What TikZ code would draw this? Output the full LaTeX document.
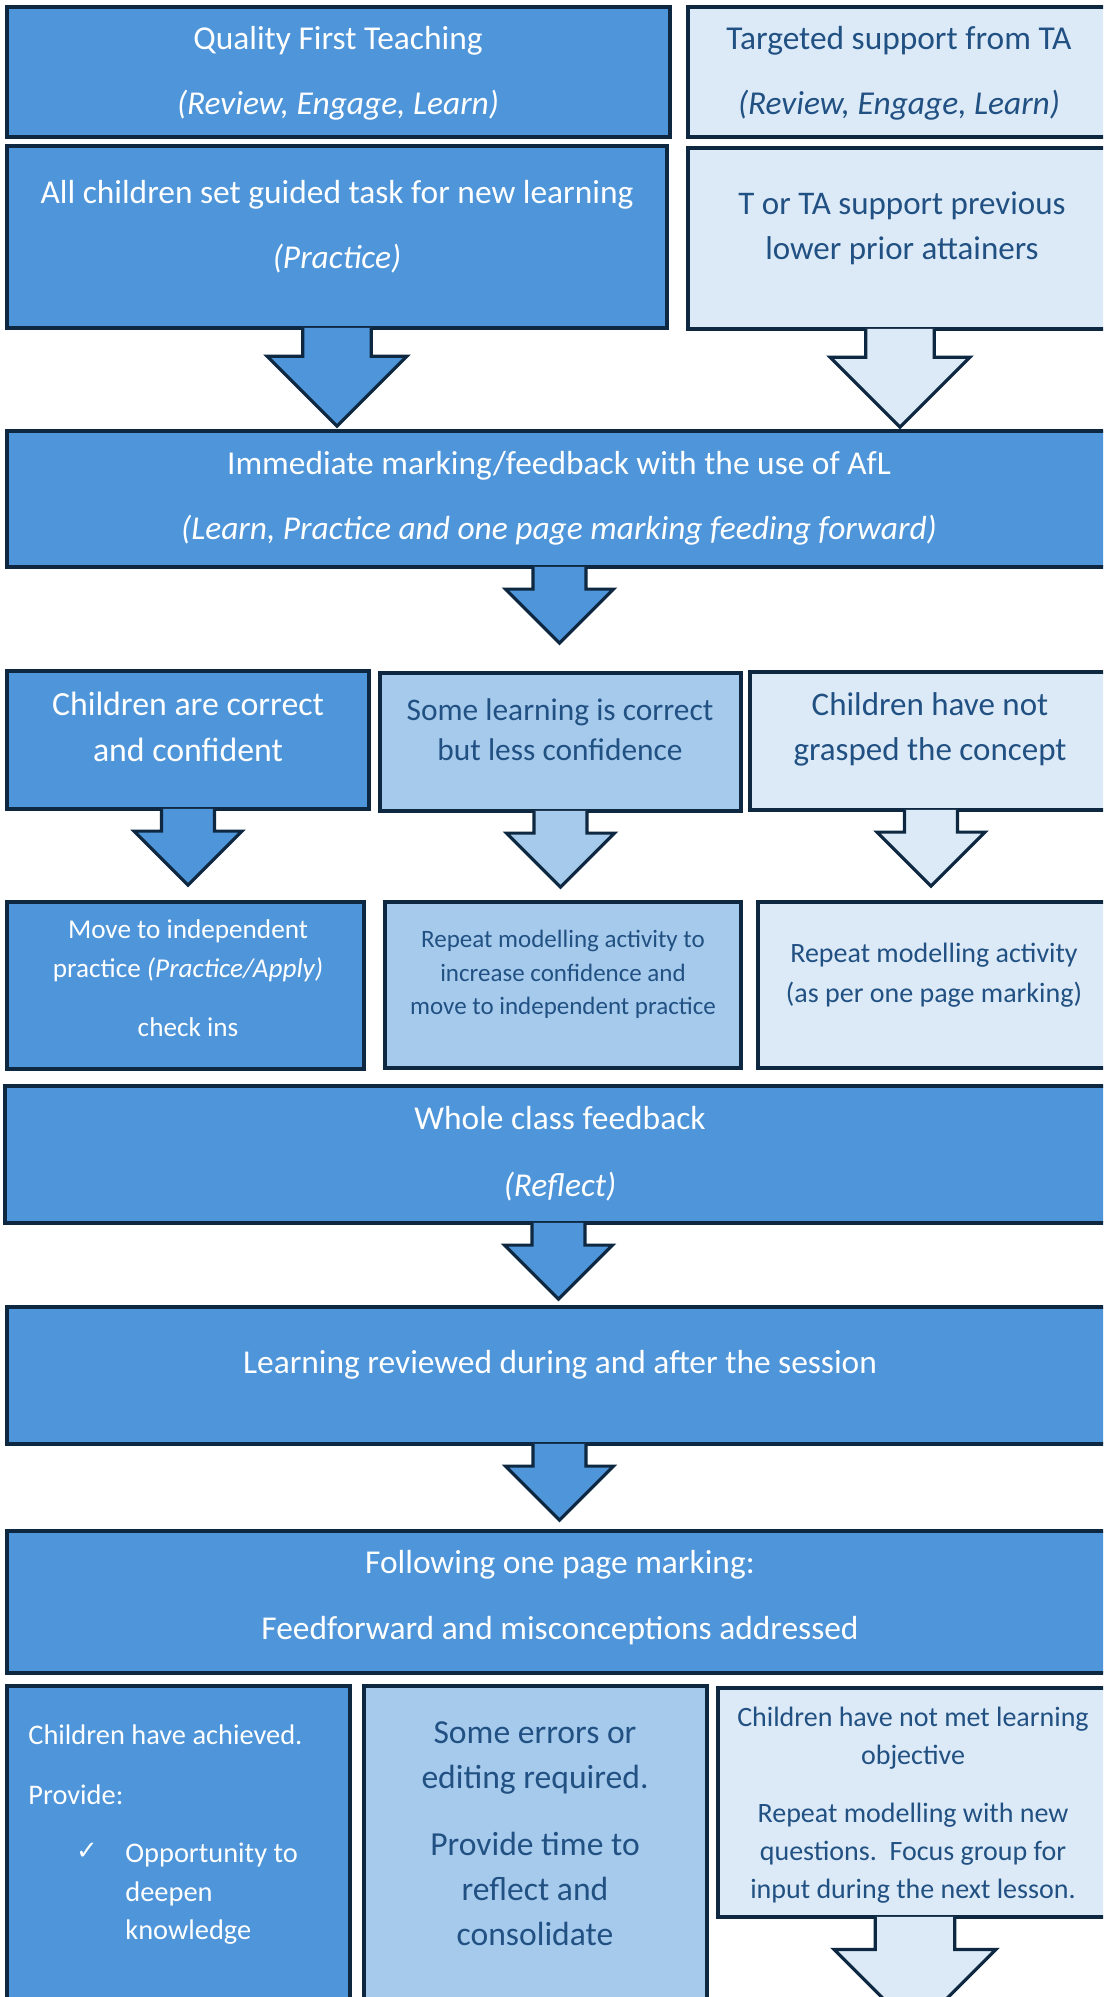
\documentclass[tikz,border=0pt]{standalone}
\usepackage{fontspec}
\setmainfont{Carlito}
\newfontfamily\symfont{DejaVu Sans}
\usetikzlibrary{calc}
\definecolor{FlowNavy}{RGB}{14,40,65}
\definecolor{FlowBlue}{RGB}{78,149,217}
\definecolor{FlowMid}{RGB}{166,202,236}
\definecolor{FlowPale}{RGB}{220,234,247}
\definecolor{FlowInk}{RGB}{33,80,130}
\newcommand{\fs}[2]{\fontsize{#1}{#2}\selectfont}
% block arrow hanging under a box: fill colour, box name, size
\newcommand{\dropArrow}[3][FlowBlue]{%
  \path[flow/arrow, fill=#1]
    ($(#2.south)+({-0.49*#3},-1.8)$) -- ($(#2.south)+({-0.49*#3},{0.38*#3})$)
    -- ++({-0.51*#3},0) -- ($(#2.south)+(0,{1.38*#3})$)
    -- ($(#2.south)+(#3,{0.38*#3})$) -- ++({-0.51*#3},0)
    -- ($(#2.south)+({0.49*#3},-1.8)$);}
\tikzset{
  flow/box/.style={
    rectangle,
    draw=FlowNavy,
    line width=1.6pt,
    inner sep=0pt
  },
  flow/dark/.style={flow/box, fill=FlowBlue},
  flow/mid/.style={flow/box, fill=FlowMid},
  flow/pale/.style={flow/box, fill=FlowPale},
  flow/arrow/.style={draw=FlowNavy, line width=1.6pt, line join=miter},
  flow/white/.style={text=white, align=center, inner sep=0pt},
  flow/ink/.style={text=FlowInk, align=center, inner sep=0pt}
}

\begin{document}
\begin{tikzpicture}[x=0.5pt,y=-0.5pt]
  \fill[white] (0,0) rectangle (1103,1997);
  \useasboundingbox (0,0) rectangle (1103,1997);
  \clip (0,0) rectangle (1103,1997);
  % boxes
  \node[flow/dark, minimum width=331.5pt, minimum height=65pt] (qft) at (338.5,72) {};
  \node[flow/pale, minimum width=212pt, minimum height=65pt] (ta) at (900,72) {};
  \node[flow/dark, minimum width=330pt, minimum height=91pt] (guided) at (337,237) {};
  \node[flow/pale, minimum width=212pt, minimum height=90.5pt] (prior) at (900,238.5) {};
  \node[flow/dark, minimum width=552.5pt, minimum height=68pt] (afl) at (559.5,499) {};
  \node[flow/dark, minimum width=181pt, minimum height=69pt] (correct) at (188,740) {};
  \node[flow/mid, minimum width=180.5pt, minimum height=69pt] (some) at (560.5,742) {};
  \node[flow/pale, minimum width=181pt, minimum height=69pt] (grasped) at (931,741) {};
  \node[flow/dark, minimum width=178.5pt, minimum height=83.5pt] (indep) at (185.5,985.5) {};
  \node[flow/mid, minimum width=178pt, minimum height=83pt] (confid) at (563,985) {};
  \node[flow/pale, minimum width=177pt, minimum height=83pt] (perpage) at (935,985) {};
  \node[flow/dark, minimum width=553.5pt, minimum height=68.5pt] (whole) at (558.5,1154.5) {};
  \node[flow/dark, minimum width=552.5pt, minimum height=68.5pt] (review) at (559.5,1375.5) {};
  \node[flow/dark, minimum width=552.5pt, minimum height=71pt] (follow) at (559.5,1602) {};
  \node[flow/dark, minimum width=171.5pt, minimum height=162pt] (achieved) at (178.5,1848) {};
  \node[flow/mid, minimum width=171.5pt, minimum height=162pt] (errors) at (535.5,1848) {};
  \node[flow/pale, minimum width=197pt, minimum height=114.5pt] (notmet) at (915,1802.5) {};
  % arrows
  \foreach \b/\c/\k in {guided/FlowBlue/70, prior/FlowPale/70, afl/FlowBlue/54,
      correct/FlowBlue/54, some/FlowMid/54, grasped/FlowPale/54,
      whole/FlowBlue/54, review/FlowBlue/54, notmet/FlowPale/81}{\dropArrow[\c]{\b}{\k}}
  % texts
  \node[flow/white, font=\fs{16.7}{32.5}] (qftT) at (338,73.5) {Quality First Teaching\\\textit{(Review, Engage, Learn)}};
  \node[flow/ink, font=\fs{16.7}{32.5}] (taT) at (899,73.5) {Targeted support from TA\\\textit{(Review, Engage, Learn)}};
  \node[flow/white, font=\fs{16.7}{32.5}] (guidedT) at (337,226.5) {All children set guided task for new learning\\\textit{(Practice)}};
  \node[flow/ink, font=\fs{16.5}{22.2}] (priorT) at (902,228.5) {T or TA support previous\\lower prior attainers};
  \node[flow/white, font=\fs{16.7}{32.5}] (aflT) at (559,498.5) {Immediate marking/feedback with the use of AfL\\\textit{(Learn, Practice and one page marking feeding forward)}};
  \node[flow/white, font=\fs{16.9}{23}] (correctT) at (188,726.5) {Children are correct\\and confident};
  \node[flow/ink, font=\fs{15.7}{20}] (someT) at (560,729.5) {Some learning is correct\\but less confidence};
  \node[flow/ink, font=\fs{16.5}{22.5}] (graspedT) at (930,729) {Children have not\\grasped the concept};
  \node[flow/white, font=\fs{13.6}{19.5}] (indepT) at (188,978) {Move to independent\\practice \textit{(Practice/Apply)}\\[10pt]check ins};
  \node[flow/ink, font=\fs{12.5}{16.75}] (confidT) at (563,974.5) {Repeat modelling activity to\\increase confidence and\\move to independent practice};
  \node[flow/ink, font=\fs{14}{20}] (perpageT) at (934,975) {Repeat modelling activity\\(as per one page marking)};
  \node[flow/white, font=\fs{16.7}{33.5}] (wholeT) at (560,1154) {Whole class feedback\\\textit{(Reflect)}};
  \node[flow/white, font=\fs{16.7}{20}] (reviewT) at (560,1364.5) {Learning reviewed during and after the session};
  \node[flow/white, font=\fs{16.7}{33}] (followT) at (560,1597.5) {Following one page marking:\\Feedforward and misconceptions addressed};
  \node[flow/white, font=\fs{14.2}{30}, align=left, anchor=west] (achT) at (28,1765) {Children have achieved.\\Provide:};
  \node[flow/white, font=\symfont\fs{13}{16}] (tick) at (87,1851) {✓};
  \node[flow/white, font=\fs{14.2}{19.25}, align=left, anchor=west] (oppT) at (125,1894) {Opportunity to\\deepen\\knowledge};
  \node[flow/ink, font=\fs{16.8}{22.5}] (errorsT) at (535,1834) {Some errors or\\editing required.\\[11pt]Provide time to\\reflect and\\consolidate};
  \node[flow/ink, font=\fs{14}{19}] (notmetT) at (913,1805.5) {Children have not met learning\\objective\\[10pt]Repeat modelling with new\\questions.\ \ Focus group for\\input during the next lesson.};
\end{tikzpicture}
\end{document}
